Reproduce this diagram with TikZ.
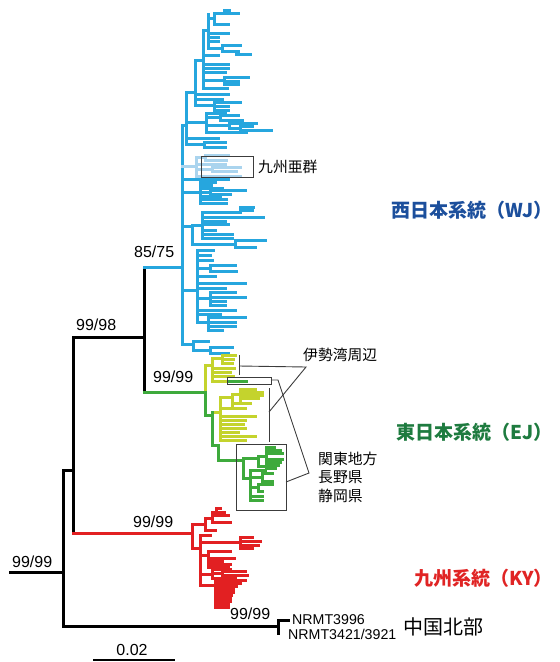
\documentclass[tikz,border=0pt]{standalone}
\usepackage{fontspec}
\setmainfont{Liberation Sans}
\newfontfamily\cjk{Noto Sans CJK JP}
\definecolor{cblue}{RGB}{38,166,222}
\definecolor{clblue}{RGB}{170,212,238}
\definecolor{cyel}{RGB}{196,211,45}
\definecolor{cgreen}{RGB}{62,170,60}
\definecolor{cred}{RGB}{226,32,34}
\definecolor{labblue}{RGB}{28,79,156}
\definecolor{labgreen}{RGB}{30,123,63}
\definecolor{labred}{RGB}{224,36,36}
\definecolor{boxgray}{RGB}{60,60,60}
\newcommand\comb[4]{\draw (#1,#2) -- (#1,#3); \foreach \yy/\ee in {#4} {\draw (#1,\yy) -- (\ee,\yy);}}
\begin{document}
\begin{tikzpicture}[x=1pt,y=-1pt,
  br/.style={line width=3.0pt,line cap=rect},
  thin/.style={line width=0.9pt,draw=boxgray},
  sup/.style={inner sep=0pt,anchor=west,font=\fontsize{16}{18}\selectfont},
  tipl/.style={inner sep=0pt,anchor=west,font=\fontsize{14.2}{15}\selectfont},
  jlab/.style={inner sep=0pt,anchor=west,font=\cjk\fontsize{14.8}{18.5}\selectfont},
  grp/.style={inner sep=0pt,anchor=east,font=\cjk\bfseries\fontsize{19}{22}\selectfont}]
\useasboundingbox (0,0) rectangle (560,662);
% ---------------- black backbone ----------------
\begin{scope}[br,color=black]
\draw (10,572) -- (63,572);
\draw (63,470) -- (63,626);
\draw (63,470) -- (73,470);
\draw (73,337) -- (73,533);
\draw (73,337) -- (144,337);
\draw (144,267) -- (144,392);
\draw (63,626) -- (278,626);
\draw (278,620) -- (278,633);
\draw (278,620) -- (288,620);
\end{scope}
% ---------------- WJ (blue) ----------------
\begin{scope}[br,color=cblue]
\draw (144,267) -- (182,267);
\comb{182}{125}{344}{125/186, 179/228, 192/200, 226/192, 290/197, 344/193}
\comb{186}{92}{144}{92/195, 122/206, 138/218, 144/204}
\comb{195}{60}{105}{60/203, 94/228, 99/222, 105/214}
\comb{203}{30}{88}{30/203, 55/218, 64/228, 68/228, 72/225, 80/224, 88/227}
\comb{208}{14}{48}{18/214, 33/228, 37/218, 41/218, 48/222}
\draw (203,30) -- (208,30);
\comb{214}{13}{24}{13/238, 24/228}
\comb{224}{10}{13}{10/229}
\comb{222}{45}{51}{45/240, 51/238}
\comb{236}{51}{54}{54/250}
\comb{224}{77}{84}{77/248, 81/238, 84/238}
\comb{214}{102}{110}{102/240, 106/228, 110/228}
\comb{206}{113}{132}{113/225, 117/220, 125/229, 132/246}
\comb{220}{115}{120}{115/238, 120/242}
\comb{229}{123}{128}{123/256, 128/240}
\comb{240}{126}{130}{126/252, 130/271}
\comb{204}{142}{147}{142/225, 147/225}
\comb{200}{182}{203}{182/215, 185/211, 188/222, 192/210, 196/220, 199/226, 203/226}
\comb{210}{190}{194}{190/245, 194/230}
\comb{192}{225}{244}{225/202, 244/235}
\comb{202}{212}{238}{212/240, 217/263, 221/225, 224/228, 230/215, 234/232, 238/232}
\comb{240}{207}{212}{207/253, 210/252}
\comb{235}{240}{247}{240/265, 247/255}
\comb{197}{250}{322}{250/213, 255/210, 260/212, 268/210, 276/215, 283/245, 288/225, 298/210, 310/235, 314/220, 322/208}
\comb{210}{265}{271}{265/235, 271/236}
\comb{210}{292}{305}{292/235, 297/245, 301/225, 305/225}
\comb{208}{317}{330}{317/245, 322/235, 326/235, 330/222}
\comb{193}{341}{350}{341/208, 350/210}
\comb{210}{347}{353}{347/232, 353/228}
\end{scope}
\begin{scope}[br,color=clblue]
\draw (182,166) -- (196,166);
\comb{196}{157}{176}{157/205, 164/225, 169/212, 176/240}
\comb{205}{155}{160}{155/228, 160/226}
\comb{212}{167}{171}{167/240, 171/236}
\end{scope}
% ---------------- EJ (yellow-green / green) ----------------
\begin{scope}[br,color=cyel]
\draw (205,365) -- (205,392);
\draw (205,365) -- (212,365);
\comb{212}{358}{381}{358/222, 368/234, 372/230, 376/233, 381/228}
\comb{222}{355}{363}{355/235, 359/233, 363/232}
\draw (212,412) -- (220,412);
\comb{220}{397}{440}{397/232, 408/232, 416/255, 420/245, 424/243, 428/245, 432/238, 436/255, 440/245}
\comb{232}{394}{408}{394/240, 403/250, 408/245}
\comb{240}{389}{400}{389/255, 392/262, 395/262, 398/258}
\end{scope}
\begin{scope}[br,color=cgreen]
\draw (144,392) -- (205,392);
\draw (205,392) -- (205,415);
\draw (205,415) -- (212,415);
\draw (212,412) -- (212,445);
\draw (212,445) -- (218,445);
\draw (218,445) -- (218,460);
\draw (218,460) -- (243,460);
\draw (228,381) -- (246,381);
\comb{243}{458}{478}{458/258, 478/250}
\comb{258}{456}{466}{456/266, 466/268}
\comb{266}{447}{468}{447/274, 450/280, 453/282, 459/282, 462/280, 465/278, 468/275}
\comb{250}{470}{500}{470/265, 477/262, 487/258, 496/262, 500/262}
\comb{262}{473}{481}{473/272, 481/272}
\comb{258}{484}{491}{484/272, 491/262}
\end{scope}
% ---------------- KY (red) ----------------
\begin{scope}[br,color=cred]
\draw (73,533) -- (192,533);
\comb{192}{524}{548}{524/205, 548/200}
\comb{205}{518}{530}{518/212, 530/215}
\comb{212}{512}{522}{512/224, 515/228, 522/230}
\comb{216}{508}{512}{508/220}
\comb{200}{535}{585}{535/210, 542/240, 555/208, 574/212, 585/215}
\comb{240}{537}{548}{537/252, 541/260, 545/258, 548/252}
\comb{208}{551}{567}{551/230, 558/234, 561/222, 564/230, 567/228}
\comb{212}{569}{578}{569/230, 573/222, 578/235}
\comb{222}{571}{575}{571/245, 575/247}
\comb{215}{580}{607}{580/245, 583/240, 586/236, 589/233, 592/233, 595/231, 598/230, 601/230, 604/228, 607/228}
\end{scope}
% ---------------- boxes and brackets ----------------
\draw[thin] (201,156) rectangle (253,177);
\draw[thin] (227,377) rectangle (271,384);
\draw[thin] (236,444) rectangle (286,510);
\draw[thin] (239,355) -- (239,375);
\draw[thin] (269,388) -- (269,442);
\coordinate (ise) at (306,367);
\coordinate (b1) at (239,366);
\coordinate (b2) at (269,412);
\coordinate (sb) at (271,380);
\coordinate (sbk) at (278,380);
\coordinate (knee) at (309,473);
\coordinate (bb) at (286,482);
\draw[thin] (b1) -- (ise) -- (b2);
\draw[thin] (sb) -- (sbk) -- (knee) -- (bb);
% ---------------- scale bar ----------------
\draw[line width=1.8pt] (93,660) -- (175,660);
% ---------------- labels ----------------
\node[sup] (s0) at (12,562) {99/99};
\node[sup] (s1) at (76,325) {99/98};
\node[sup] (s2) at (134,252) {85/75};
\node[sup] (s3) at (153,377) {99/99};
\node[sup] (s4) at (133,522) {99/99};
\node[sup] (s5) at (230,614) {99/99};
\node[sup,anchor=center] (sc) at (132,650) {0.02};
\node[tipl] (t1) at (292,620) {NRMT3996};
\node[tipl] (t2) at (288,634) {NRMT3421/3921};
\node[inner sep=0pt,anchor=west,font=\cjk\fontsize{20}{22}\selectfont] (cn) at (403,627) {中国北部};
\node[jlab] (ky1) at (258,167) {九州亜群};
\node[jlab] (isel) at (303,355) {伊勢湾周辺};
\node[jlab,align=left] (kanto) at (318,477) {関東地方\\長野県\\静岡県};
\node[grp,text=labblue] (wj) at (553,210) {西日本系統（WJ）};
\node[grp,text=labgreen] (ej) at (553,432) {東日本系統（EJ）};
\node[grp,text=labred] (ky) at (553,578) {九州系統（KY）};
\end{tikzpicture}
\end{document}
